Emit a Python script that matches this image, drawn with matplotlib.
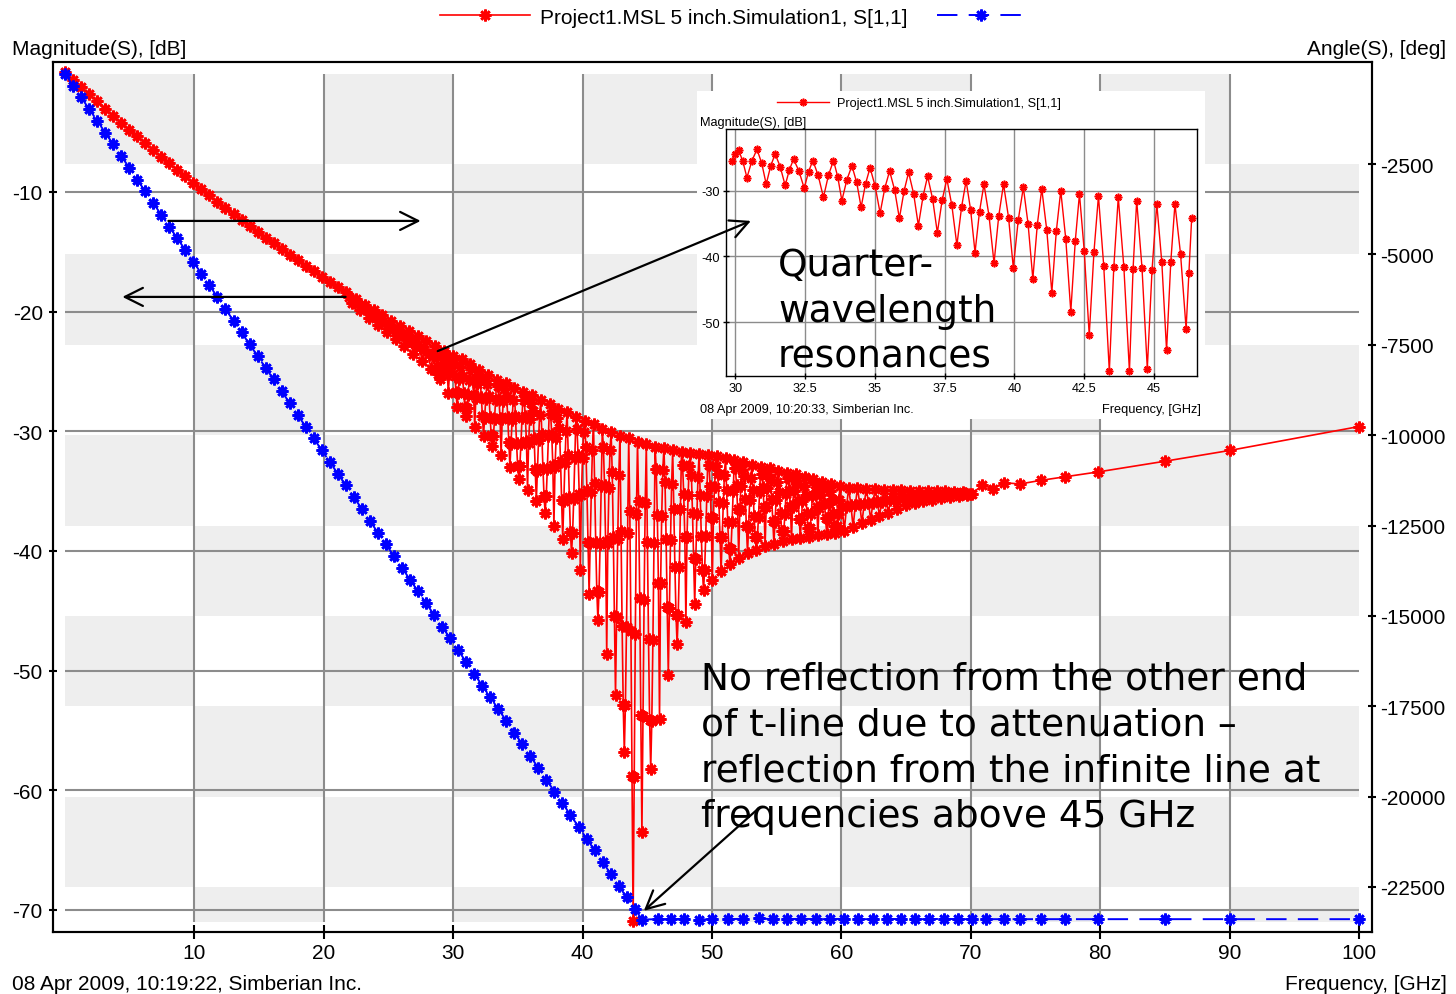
import matplotlib
matplotlib.use("Agg")
import matplotlib.pyplot as plt
import matplotlib.transforms as mtransforms
from matplotlib.patches import Rectangle

plt.rcParams['font.family'] = ['Liberation Sans Narrow', 'Liberation Sans', 'DejaVu Sans']
plt.rcParams['font.size'] = 15
plt.rcParams['axes.unicode_minus'] = False

# ---- main run (10:19:22) ----
# frequency sweep shared by the phase line and the smooth start of |S11|
f_grid = [0.0, 0.62, 1.24, 1.86, 2.48, 3.1, 3.72, 4.34, 4.96, 5.58, 6.2, 6.82, 7.44, 8.06,
          8.68, 9.3, 9.92, 10.54, 11.16, 11.78, 12.4, 13.02, 13.64, 14.26, 14.88, 15.5,
          16.12, 16.74, 17.36, 17.98, 18.6, 19.22, 19.84, 20.46, 21.08, 21.7, 22.32, 22.94,
          23.56, 24.18, 24.8, 25.42, 26.04, 26.66, 27.28, 27.9, 28.52, 29.14, 29.76, 30.38,
          31.0, 31.62, 32.24, 32.86, 33.48, 34.1, 34.72, 35.34, 35.96, 36.58, 37.2, 37.82,
          38.44, 39.06, 39.68, 40.3, 40.92, 41.54, 42.16, 42.78, 43.4, 44.02]
deg_grid = [0, -330, -650, -980, -1300, -1630, -1950, -2280, -2600, -2930, -3260, -3580,
            -3910, -4230, -4560, -4880, -5210, -5530, -5860, -6180, -6510, -6840, -7160,
            -7490, -7810, -8140, -8460, -8790, -9110, -9440, -9770, -10090, -10420, -10740,
            -11070, -11390, -11720, -12040, -12370, -12700, -13020, -13350, -13670, -14000,
            -14320, -14650, -14970, -15300, -15620, -15950, -16280, -16600, -16930, -17250,
            -17580, -17900, -18230, -18550, -18880, -19210, -19530, -19860, -20180, -20510,
            -20830, -21160, -21480, -21810, -22130, -22460, -22790, -23110]
f_flat = [44.6, 45.8, 46.8, 47.8, 49.0, 50.0, 51.2, 52.4, 53.6, 54.7, 55.8, 56.9, 58.0,
          59.1, 60.2, 61.3, 62.4, 63.5, 64.6, 65.7, 66.8, 67.9, 69.0, 70.1, 71.2, 72.6,
          73.8, 75.4, 77.3, 79.8, 85.0, 90.0, 100.0]
deg_flat = [-23400, -23390, -23390, -23380, -23400, -23390, -23390, -23380, -23370, -23390,
            -23390, -23380, -23390, -23390, -23380, -23390, -23390, -23380, -23390, -23390,
            -23390, -23380, -23390, -23390, -23390, -23390, -23390, -23390, -23390, -23390,
            -23390, -23390, -23390]

db_start = [0.0, -0.62, -1.23, -1.84, -2.44, -3.03, -3.62, -4.21, -4.79, -5.36, -5.93,
            -6.49, -7.05, -7.61, -8.15, -8.69, -9.23, -9.76, -10.29, -10.81, -11.32, -11.83,
            -12.34, -12.84, -13.33, -13.82, -14.3, -14.78, -15.25, -15.72, -16.18, -16.63,
            -17.09, -17.53, -17.97, -18.4]

# resonance region, start (22-28.6 GHz)
f_osc_a = [21.97, 22.14, 22.31, 22.48, 22.65, 22.82, 22.99, 23.16, 23.33, 23.5, 23.67, 23.84,
           24.01, 24.18, 24.35, 24.52, 24.69, 24.86, 25.03, 25.2, 25.37, 25.54, 25.71, 25.88,
           26.05, 26.22, 26.39, 26.56, 26.73, 26.9, 27.07, 27.24, 27.41, 27.58, 27.75, 27.92,
           28.09, 28.26, 28.43, 28.6]
db_osc_a = [-18.8, -19.3, -19.1, -18.94, -19.37, -19.9, -19.63, -19.41, -19.9, -20.5, -20.15, -19.86,
            -20.42, -21.1, -20.67, -20.31, -20.94, -21.7, -21.18, -20.75, -21.45, -22.3, -21.69, -21.19,
            -21.96, -22.9, -22.2, -21.62, -22.47, -23.5, -22.7, -22.05, -22.97, -24.1, -23.2, -22.46,
            -23.51, -24.8, -23.74, -22.87]

# resonance region, dense part (28.6-59.9 GHz), one resonance per row
f_osc_b = [28.685, 28.77, 28.855, 28.94, 29.025, 29.11, 29.195, 29.28,
           29.365, 29.45, 29.535, 29.62, 29.705, 29.79, 29.875, 29.96,
           30.045, 30.13, 30.215, 30.3, 30.385, 30.47, 30.555, 30.64,
           30.725, 30.81, 30.895, 30.98, 31.065, 31.15, 31.235, 31.32,
           31.405, 31.49, 31.575, 31.66, 31.745, 31.83, 31.915, 32.0,
           32.085, 32.17, 32.255, 32.34, 32.425, 32.51, 32.595, 32.68,
           32.765, 32.85, 32.935, 33.02, 33.105, 33.19, 33.275, 33.36,
           33.445, 33.53, 33.615, 33.7, 33.785, 33.87, 33.955, 34.04,
           34.125, 34.21, 34.295, 34.38, 34.465, 34.55, 34.635, 34.72,
           34.805, 34.89, 34.975, 35.06, 35.145, 35.23, 35.315, 35.4,
           35.485, 35.57, 35.655, 35.74, 35.825, 35.91, 35.995, 36.08,
           36.165, 36.25, 36.335, 36.42, 36.505, 36.59, 36.675, 36.76,
           36.845, 36.93, 37.015, 37.1, 37.185, 37.27, 37.355, 37.44,
           37.525, 37.61, 37.695, 37.78, 37.865, 37.95, 38.035, 38.12,
           38.205, 38.29, 38.375, 38.46, 38.545, 38.63, 38.715, 38.8,
           38.885, 38.97, 39.055, 39.14, 39.225, 39.31, 39.395, 39.48,
           39.565, 39.65, 39.735, 39.82, 39.905, 39.99, 40.075, 40.16,
           40.245, 40.33, 40.415, 40.5, 40.585, 40.67, 40.755, 40.84,
           40.925, 41.01, 41.095, 41.18, 41.265, 41.35, 41.435, 41.52,
           41.605, 41.69, 41.775, 41.86, 41.945, 42.03, 42.115, 42.2,
           42.285, 42.37, 42.455, 42.54, 42.625, 42.71, 42.795, 42.88,
           42.965, 43.05, 43.135, 43.22, 43.305, 43.39, 43.475, 43.56,
           43.645, 43.73, 43.815, 43.9, 43.985, 44.07, 44.155, 44.24,
           44.325, 44.41, 44.495, 44.58, 44.665, 44.75, 44.835, 44.92,
           45.005, 45.09, 45.175, 45.26, 45.345, 45.43, 45.515, 45.6,
           45.685, 45.77, 45.855, 45.94, 46.025, 46.11, 46.195, 46.28,
           46.365, 46.45, 46.535, 46.62, 46.705, 46.79, 46.875, 46.96,
           47.045, 47.13, 47.215, 47.3, 47.385, 47.47, 47.555, 47.64,
           47.725, 47.81, 47.895, 47.98, 48.065, 48.15, 48.235, 48.32,
           48.405, 48.49, 48.575, 48.66, 48.745, 48.83, 48.915, 49.0,
           49.085, 49.17, 49.255, 49.34, 49.425, 49.51, 49.595, 49.68,
           49.765, 49.85, 49.935, 50.02, 50.105, 50.19, 50.275, 50.36,
           50.445, 50.53, 50.615, 50.7, 50.785, 50.87, 50.955, 51.04,
           51.125, 51.21, 51.295, 51.38, 51.465, 51.55, 51.635, 51.72,
           51.805, 51.89, 51.975, 52.06, 52.145, 52.23, 52.315, 52.4,
           52.485, 52.57, 52.655, 52.74, 52.825, 52.91, 52.995, 53.08,
           53.165, 53.25, 53.335, 53.42, 53.505, 53.59, 53.675, 53.76,
           53.845, 53.93, 54.015, 54.1, 54.185, 54.27, 54.355, 54.44,
           54.525, 54.61, 54.695, 54.78, 54.865, 54.95, 55.035, 55.12,
           55.205, 55.29, 55.375, 55.46, 55.545, 55.63, 55.715, 55.8,
           55.885, 55.97, 56.055, 56.14, 56.225, 56.31, 56.395, 56.48,
           56.565, 56.65, 56.735, 56.82, 56.905, 56.99, 57.075, 57.16,
           57.245, 57.33, 57.415, 57.5, 57.585, 57.67, 57.755, 57.84,
           57.925, 58.01, 58.095, 58.18, 58.265, 58.35, 58.435, 58.52,
           58.605, 58.69, 58.775, 58.86, 58.945, 59.03, 59.115, 59.2,
           59.285, 59.37, 59.455, 59.54, 59.625, 59.71, 59.795, 59.88]
db_osc_b = [-23.69, -24.51, -25.19, -25.6, -25.25, -24.67, -23.98, -23.28,
            -23.56, -24.16, -25.04, -26.8, -25.24, -24.46, -23.93, -23.68,
            -24.33, -25.41, -26.7, -28.0, -26.8, -25.6, -24.6, -24.0,
            -25.41, -26.82, -28.0, -28.7, -28.06, -26.98, -25.69, -24.4,
            -24.82, -25.7, -27.0, -29.6, -27.25, -26.08, -25.28, -24.9,
            -25.73, -27.1, -28.75, -30.4, -28.87, -27.34, -26.07, -25.3,
            -27.07, -28.84, -30.32, -31.2, -30.38, -29.0, -27.35, -25.7,
            -26.2, -27.28, -28.85, -32.0, -29.0, -27.5, -26.48, -26.0,
            -27.05, -28.8, -30.9, -33.0, -31.02, -29.04, -27.39, -26.4,
            -28.68, -30.96, -32.86, -34.0, -32.91, -31.08, -28.89, -26.7,
            -27.36, -28.75, -30.8, -34.9, -30.95, -28.98, -27.63, -27.0,
            -28.32, -30.52, -33.16, -35.8, -33.28, -30.76, -28.66, -27.4,
            -30.22, -33.04, -35.39, -36.8, -35.44, -33.16, -30.43, -27.7,
            -28.52, -30.25, -32.8, -37.9, -33.0, -30.55, -28.88, -28.1,
            -29.74, -32.46, -35.73, -39.0, -35.82, -32.64, -29.99, -28.4,
            -31.94, -35.48, -38.43, -40.2, -38.49, -35.64, -32.22, -28.8,
            -29.82, -32.0, -35.2, -41.6, -35.35, -32.22, -30.1, -29.1,
            -31.28, -34.9, -39.25, -43.6, -39.34, -35.08, -31.53, -29.4,
            -34.32, -39.24, -43.34, -45.8, -43.4, -39.4, -34.6, -29.8,
            -31.3, -34.5, -39.2, -48.6, -39.35, -34.72, -31.58, -30.1,
            -33.39, -38.86, -45.43, -52.0, -45.52, -39.04, -33.64, -30.4,
            -38.32, -46.24, -52.84, -56.8, -52.87, -46.32, -38.46, -30.6,
            -36.65, -46.72, -58.81, -70.9, -58.9, -46.9, -36.9, -30.9,
            -35.79, -43.94, -53.72, -63.5, -53.78, -44.06, -35.96, -31.1,
            -39.23, -47.36, -54.14, -58.2, -54.17, -47.44, -39.37, -31.3,
            -33.12, -36.98, -42.65, -54.0, -42.7, -37.05, -33.21, -31.4,
            -34.25, -39.0, -44.7, -50.4, -44.76, -39.12, -34.42, -31.6,
            -36.46, -41.32, -45.37, -47.8, -45.39, -41.36, -36.53, -31.7,
            -32.84, -35.25, -38.8, -45.9, -38.85, -35.33, -32.93, -31.8,
            -33.69, -36.84, -40.62, -44.4, -40.65, -36.9, -33.78, -31.9,
            -35.32, -38.74, -41.59, -43.3, -41.61, -38.78, -35.39, -32.0,
            -32.83, -34.6, -37.2, -42.4, -37.25, -34.68, -32.92, -32.1,
            -33.54, -35.94, -38.82, -41.7, -38.85, -36.0, -33.63, -32.2,
            -34.87, -37.54, -39.77, -41.1, -39.8, -37.62, -35.01, -32.4,
            -33.06, -34.45, -36.5, -40.6, -36.6, -34.6, -33.24, -32.6,
            -33.74, -35.64, -37.92, -40.2, -37.98, -35.76, -33.91, -32.8,
            -34.93, -37.06, -38.84, -39.9, -38.87, -37.14, -35.07, -33.0,
            -33.53, -34.65, -36.3, -39.6, -36.35, -34.73, -33.62, -33.1,
            -34.05, -35.62, -37.51, -39.4, -37.57, -35.74, -34.22, -33.3,
            -35.07, -36.84, -38.32, -39.2, -38.35, -36.92, -35.21, -33.5,
            -33.94, -34.88, -36.25, -39.0, -36.3, -34.95, -34.03, -33.6,
            -34.4, -35.72, -37.31, -38.9, -37.37, -35.84, -34.57, -33.8,
            -35.3, -36.8, -38.05, -38.8, -38.08, -36.88, -35.44, -34.0,
            -34.38, -35.18, -36.35, -38.7, -36.45, -35.33, -34.56, -34.2,
            -34.86, -35.96, -37.28, -38.6, -37.34, -36.08, -35.03, -34.4,
            -35.63, -36.86, -37.89, -38.5, -37.92, -36.94, -35.77, -34.6]

# resonance region, fading out (60-70 GHz)
f_osc_c = [60.05, 60.22, 60.39, 60.56, 60.73, 60.9, 61.07, 61.24, 61.41, 61.58, 61.75, 61.92,
           62.09, 62.26, 62.43, 62.6, 62.77, 62.94, 63.11, 63.28, 63.45, 63.62, 63.79, 63.96,
           64.13, 64.3, 64.47, 64.64, 64.81, 64.98, 65.15, 65.32, 65.49, 65.66, 65.83, 66.0,
           66.17, 66.34, 66.51, 66.68, 66.85, 67.02, 67.19, 67.36, 67.53, 67.7, 67.87, 68.04,
           68.21, 68.38, 68.55, 68.72, 68.89, 69.06, 69.23, 69.4, 69.57, 69.74, 69.91, 70.08]
db_osc_c = [-36.27, -38.3, -36.32, -34.7, -36.19, -38.0, -36.19, -34.7, -36.05, -37.7, -36.11, -34.8,
            -35.97, -37.4, -35.97, -34.8, -35.84, -37.1, -35.89, -34.9, -35.76, -36.8, -35.76, -34.9,
            -35.62, -36.5, -35.62, -34.9, -35.49, -36.2, -35.54, -35.0, -35.45, -36.0, -35.45, -35.0,
            -35.36, -35.8, -35.36, -35.0, -35.32, -35.7, -35.32, -35.0, -35.27, -35.6, -35.27, -35.0,
            -35.23, -35.5, -35.28, -35.1, -35.24, -35.4, -35.24, -35.1, -35.19, -35.3, -35.25, -35.2]

f_tail = [70.9, 71.7, 72.6, 73.8, 75.4, 77.3, 79.8, 85.0, 90.0, 100.0]
db_tail = [-34.5, -34.8, -34.3, -34.4, -34.1, -33.8, -33.4, -32.5, -31.6, -29.6]

# ---- zoomed run (10:20:33) ----
f_zoom = [29.88, 30.0, 30.12, 30.27, 30.42, 30.6, 30.78, 30.95, 31.11, 31.27, 31.43, 31.61,
          31.79, 31.94, 32.09, 32.28, 32.47, 32.63, 32.78, 32.97, 33.16, 33.34, 33.52, 33.67,
          33.82, 34.0, 34.18, 34.35, 34.51, 34.67, 34.83, 35.01, 35.19, 35.36, 35.53, 35.71,
          35.88, 36.05, 36.21, 36.39, 36.56, 36.73, 36.89, 37.07, 37.24, 37.41, 37.58, 37.76,
          37.94, 38.11, 38.27, 38.43, 38.59, 38.75, 38.91, 39.09, 39.27, 39.44, 39.61, 39.79,
          39.96, 40.14, 40.32, 40.49, 40.66, 40.82, 40.98, 41.16, 41.34, 41.5, 41.66, 41.84,
          42.02, 42.18, 42.33, 42.5, 42.68, 42.85, 43.01, 43.2, 43.4, 43.56, 43.72, 43.92,
          44.12, 44.25, 44.38, 44.57, 44.76, 44.93, 45.1, 45.28, 45.45, 45.6, 45.75, 45.95,
          46.15, 46.25, 46.35]
db_zoom = [-25.4, -24.44, -23.8, -25.48, -28.0, -25.42, -23.7, -25.82, -29.0, -26.24, -24.4,
           -26.32, -29.2, -26.8, -25.2, -26.96, -29.6, -27.08, -25.4, -27.64, -31.0, -27.64,
           -25.4, -27.84, -31.5, -28.32, -26.2, -28.72, -32.5, -28.9, -26.5, -29.26, -33.4,
           -29.56, -27.0, -29.88, -34.2, -30.0, -27.2, -30.44, -35.3, -30.8, -27.8, -31.24,
           -36.4, -31.48, -28.2, -32.24, -38.3, -32.42, -28.5, -32.86, -39.4, -33.16, -29.0,
           -33.8, -41.0, -33.8, -29.0, -34.08, -41.7, -34.38, -29.5, -35.06, -43.4, -35.18,
           -29.7, -36.02, -45.5, -36.2, -30.0, -37.36, -48.4, -37.66, -30.5, -39.1, -52.0,
           -39.28, -30.8, -41.48, -57.5, -41.6, -31.0, -41.6, -57.5, -41.9, -31.5, -41.74,
           -57.1, -42.04, -32.0, -40.92, -54.3, -40.92, -32.0, -39.6, -51.0, -42.5, -34.1]

x_ticks = [10, 20, 30, 40, 50, 60, 70, 80, 90, 100]
db_ticks = [-10, -20, -30, -40, -50, -60, -70]
deg_ticks = [-2500, -5000, -7500, -10000, -12500, -15000, -17500, -20000, -22500]
deg_rows = [0, -2500, -5000, -7500, -10000, -12500, -15000, -17500, -20000, -22500, -23470]
zoom_xticks = [30, 32.5, 35, 37.5, 40, 42.5, 45]
zoom_yticks = [-30, -40, -50]

star = (8, 2, 0)
W, H = 1456, 995

fig = plt.figure(figsize=(W / 100, H / 100), dpi=100)
ax = fig.add_axes([53 / W, 1 - 933 / H, 1319 / W, 870 / H])
ax2 = ax.twinx()

ax.set_xlim(-0.93, 101.0)
ax.set_ylim(-71.84, 0.86)
ax2.set_ylim(-23745, 322)

# checkerboard background, rows follow the angle axis
blend = mtransforms.blended_transform_factory(ax.transData, ax2.transData)
for i in range(len(deg_rows) - 1):
    for j in range(10):
        if (i + j) % 2 == 0:
            ax.add_patch(Rectangle((j * 10, deg_rows[i + 1]), 10, deg_rows[i] - deg_rows[i + 1],
                                   transform=blend, facecolor='#eeeeee', edgecolor='none', zorder=0.1))
ax.vlines(x_ticks[:-1], deg_rows[-1], deg_rows[0], transform=blend, colors='#8c8c8c', lw=1.5, zorder=0.5)
ax.hlines(db_ticks, 0, 100, colors='#8c8c8c', lw=1.5, zorder=0.5)

red_f = f_grid[:len(db_start)] + f_osc_a + f_osc_b + f_osc_c + f_tail
red_db = db_start + db_osc_a + db_osc_b + db_osc_c + db_tail
l_red, = ax.plot(red_f, red_db, color='red', lw=1.2, marker=star, ms=8.5, mew=1.9, zorder=2)
l_blue, = ax2.plot(f_grid + f_flat, deg_grid + deg_flat, color='blue', lw=1.4, marker=star,
                   ms=8.5, mew=1.9, dashes=(10.5, 5.8))

ax.set_xticks(x_ticks)
ax.set_yticks(db_ticks)
ax2.set_yticks(deg_ticks)
ax.tick_params(axis='x', direction='inout', length=10, width=1.5, pad=3)
ax.tick_params(axis='y', direction='inout', length=6, width=1.5, pad=4.3)
ax2.tick_params(axis='y', direction='inout', length=6, width=1.5, pad=3)
for a in (ax, ax2):
    for s in a.spines.values():
        s.set_linewidth(1.5)
        s.set_color('black')

fig.text(12 / W, 1 - 55 / H, 'Magnitude(S), [dB]', ha='left', va='baseline')
fig.text(1446 / W, 1 - 55 / H, 'Angle(S), [deg]', ha='right', va='baseline')
fig.text(12 / W, 1 - 990 / H, '08 Apr 2009, 10:19:22, Simberian Inc.', ha='left', va='baseline')
fig.text(1447 / W, 1 - 990 / H, 'Frequency, [GHz]', ha='right', va='baseline')

fig.legend([l_red, l_blue], ['Project1.MSL 5 inch.Simulation1, S[1,1]', ''], ncol=2,
           loc='center left', bbox_to_anchor=(440 / W, 1 - 18 / H), frameon=False,
           handlelength=4.3, handletextpad=0.5, columnspacing=1.4, borderpad=0,
           borderaxespad=0, numpoints=1)

# ---- inset with the zoomed run ----
fig.add_artist(Rectangle((697 / W, 1 - 420 / H), 508 / W, 328 / H, transform=fig.transFigure,
                         facecolor='white', edgecolor='none', zorder=1))
axi = fig.add_axes([726 / W, 1 - 377 / H, 471 / W, 247 / H], zorder=2)
axi.plot(f_zoom, db_zoom, color='red', lw=1.0, marker=star, ms=5.5, mew=1.2)
axi.set_xlim(29.67, 46.54)
axi.set_ylim(-58.2, -20.6)
axi.set_xticks(zoom_xticks)
axi.set_xticklabels(['30', '32.5', '35', '37.5', '40', '42.5', '45'])
axi.set_yticks(zoom_yticks)
axi.grid(True, color='#8c8c8c', lw=1.0)
axi.set_axisbelow(True)
axi.tick_params(labelsize=9.2, direction='inout', length=5, width=1, pad=2)
for s in axi.spines.values():
    s.set_linewidth(1.0)
fig.text(700 / W, 1 - 126 / H, 'Magnitude(S), [dB]', fontsize=9.2, ha='left', va='baseline', zorder=3)
fig.text(700 / W, 1 - 413 / H, '08 Apr 2009, 10:20:33, Simberian Inc.', fontsize=9.2,
         ha='left', va='baseline', zorder=3)
fig.text(1201 / W, 1 - 413 / H, 'Frequency, [GHz]', fontsize=9.2, ha='right', va='baseline', zorder=3)
axi.legend([axi.lines[0]], ['Project1.MSL 5 inch.Simulation1, S[1,1]'], loc='center left',
           bbox_to_anchor=(777 / W, 1 - 104 / H), bbox_transform=fig.transFigure, frameon=False,
           fontsize=9.2, handlelength=4.1, handletextpad=0.6, borderpad=0, borderaxespad=0,
           numpoints=1)

# ---- annotations on top of everything ----
over = fig.add_axes([0, 0, 1, 1], zorder=3)
over.set_axis_off()
arrow = dict(arrowstyle='->,head_length=1.0,head_width=0.5', mutation_scale=13, lw=1.6,
             color='black', shrinkA=0, shrinkB=0)
for xy, xytext in [((27.48, -12.42), (7.99, -12.42)),
                   ((4.43, -18.77), (21.68, -18.77)),
                   ((53.0, -12.42), (28.8, -23.3)),
                   ((44.73, -70.07), (53.6, -61.5))]:
    over.annotate('', xy=xy, xycoords=ax.transData, xytext=xytext, textcoords=ax.transData,
                  arrowprops=arrow)
over.text(55.1, -14.59, 'Quarter-\nwavelength\nresonances', transform=ax.transData,
          family='DejaVu Sans', fontsize=27, va='top', ha='left', linespacing=1.35)
over.text(49.14, -49.18, 'No reflection from the other end\nof t-line due to attenuation \u2013\n'
          'reflection from the infinite line at\nfrequencies above 45 GHz', transform=ax.transData,
          family='DejaVu Sans', fontsize=27, va='top', ha='left', linespacing=1.35)

fig.savefig('out.png', dpi=100)
